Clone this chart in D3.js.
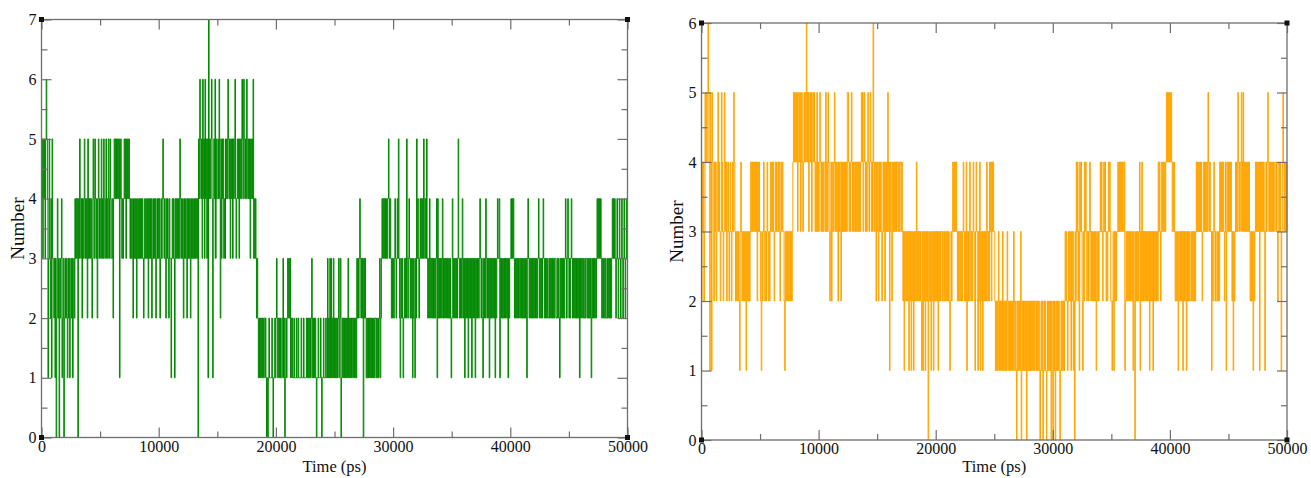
<!DOCTYPE html>
<html>
<head>
<meta charset="utf-8">
<script src="https://cdn.jsdelivr.net/npm/d3@7"></script>
<style>
  html, body { margin: 0; padding: 0; background: #fff; }
  svg { display: block; }
  text { font-family: "Liberation Serif", "Times New Roman", serif; }
</style>
</head>
<body>
<svg id="chart" width="1311" height="478"></svg>
<script>
// Time axis (ps) and count axis ticks
const timeTicks = [0, 10000, 20000, 30000, 40000, 50000];
const timeMinorTicks = [5000, 15000, 25000, 35000, 45000];
const countTicksA = [0, 1, 2, 3, 4, 5, 6, 7];
const countTicksB = [0, 1, 2, 3, 4, 5, 6];
const sampleStepPs = 50;

// Hydrogen-bond counts, one digit per 50 ps, one string per 500 ps
const hbondsA = [
  "4535453565", "4135324153", "3231302432", "0323412302", "3232132312",
  "3231232434", "3404354342", "4345343425", "3434342354", "3543424534",
  "4353435434", "5343543543", "3424545454", "5451454343", "4545354545",
  "4343432434", "3423434343", "4343234343", "3424343423", "4343423434",
  "3423434543", "4324343243", "3134343143", "4343435434", "3423434324",
  "3434234343", "4343434054", "6545364536", "4535174545", "6413546354",
  "4546425354", "5343545465", "4535453545", "6434545354", "5465465454",
  "6545453545", "4634343232", "1212121212", "2121010121", "1112101121",
  "2321212121", "1231201212", "3232312121", "1211121121", "1112111211",
  "1121212121", "2312121210", "1121112101", "1211121131", "2131312131",
  "2121212312", "3012121212", "1213121212", "2121212132", "3234323230",
  "3232121212", "1212121212", "2121212312", "3434343434", "3454343232",
  "3234323435", "3213232123", "2325323432", "3231232132", "5343234343",
  "4354343532", "3243232323", "2323414232", "3232432323", "2323232321",
  "2432323232", "3532323243", "2313232313", "2323132323", "1323232343",
  "2321323243", "2323132323", "2323132343", "3413232323", "2323231323",
  "3434343232", "3232332323", "2323232313", "4323232323", "2323232343",
  "2323234323", "2323223232", "3232323322", "3232132323", "2323432343",
  "2323432323", "2323232313", "2323322323", "3232323213", "2323232343",
  "4343432323", "3232232323", "2323434343", "2343234323", "4323432343",
  "3"
];
const hbondsB = [
  "2434235454", "4654154154", "3243423453", "4323543235", "4342343234",
  "3234354323", "2323213432", "3232321323", "2323434343", "4343424343",
  "3213234323", "2343232343", "4343234343", "3434234343", "3213232323",
  "2323234545", "4545345453", "4543454546", "5453454534", "5454343534",
  "3454343434", "4353435432", "3423434534", "3432434324", "3434343435",
  "5434345434", "3443434343", "4345453454", "3434543454", "3436434324",
  "3423434323", "4342434353", "4134324343", "4343443434", "4343231323",
  "2323132313", "2313232432", "3232321313", "2313232032", "3213231323",
  "2323132323", "3232233232", "3232123234", "3434343232", "3232323432",
  "3241323243", "2323432134", "3213241323", "1323232432", "3243424343",
  "3212121321", "2121312121", "2132121212", "1213212102", "1212130121",
  "2121201212", "1212121212", "2121212101", "2120121210", "1212121021",
  "0212012121", "2101212121", "2323212323", "2132312032", "4342314343",
  "2132434323", "3234323232", "3232132323", "3434323434", "3232343432",
  "2123132323", "3434343434", "4341232323", "2323232132", "0323232341",
  "3242323232", "3232313232", "3132323232", "4343234343", "3434545454",
  "5454343432", "3232132323", "2313232313", "2323223232", "3232343434",
  "3434323434", "3434354343", "3132343232", "2323243434", "3432341343",
  "4343432313", "2343435434", "4354353434", "3434343232", "3213234343",
  "4341434343", "4313434543", "4343434334", "4343234343", "1345434343",
  "4"
];

const seriesColors = ["#008800", "#ffa500"];
const frameColor = "#6e6e6e";

const toSeries = groups => groups.join("").split("").map((c, i) => ({ t: i * sampleStepPs, n: +c }));

const panels = [
  { data: toSeries(hbondsA), color: seriesColors[0], yTicks: countTicksA, yMax: 7,
    x0: 41.5, x1: 627.5, top: 19.5, bottom: 437.5, ylabX: 17 },
  { data: toSeries(hbondsB), color: seriesColors[1], yTicks: countTicksB, yMax: 6,
    x0: 701.5, x1: 1287, top: 23, bottom: 440, ylabX: 676 }
];

const svg = d3.select("#chart");

panels.forEach(p => {
  const x = d3.scaleLinear().domain([0, 50000]).range([p.x0, p.x1]);
  const y = d3.scaleLinear().domain([0, p.yMax]).range([p.bottom, p.top]);
  const yMinor = d3.range(0.5, p.yMax, 1);
  const g = svg.append("g");

  // trace, drawn as a step line so each change is a vertical stroke
  const line = d3.line().curve(d3.curveStepAfter).x(d => x(d.t)).y(d => y(d.n));
  g.append("path")
    .datum(p.data)
    .attr("d", line)
    .attr("fill", "none")
    .attr("stroke", p.color)
    .attr("stroke-width", 1)
    .attr("stroke-linejoin", "miter");

  // inward ticks on all four sides
  const styleAxis = sel => {
    sel.select(".domain").remove();
    sel.selectAll(".tick line").attr("stroke", frameColor).attr("stroke-width", 1.2);
    sel.selectAll(".tick text").attr("fill", "#111").style("font-size", "16px")
      .style("font-family", "'Liberation Serif', 'Times New Roman', serif");
  };
  const addAxis = (axis, tx, ty) => g.append("g").attr("transform", `translate(${tx},${ty})`).call(axis).call(styleAxis);

  addAxis(d3.axisBottom(x).tickValues(timeTicks).tickSize(-10).tickPadding(3).tickFormat(d3.format("d")), 0, p.bottom);
  addAxis(d3.axisBottom(x).tickValues(timeMinorTicks).tickSize(-6).tickFormat(""), 0, p.bottom);
  addAxis(d3.axisTop(x).tickValues(timeTicks).tickSize(-10).tickFormat(""), 0, p.top);
  addAxis(d3.axisTop(x).tickValues(timeMinorTicks).tickSize(-6).tickFormat(""), 0, p.top);
  addAxis(d3.axisLeft(y).tickValues(p.yTicks).tickSize(-10).tickPadding(5).tickFormat(d3.format("d")), p.x0, 0);
  addAxis(d3.axisLeft(y).tickValues(yMinor).tickSize(-6).tickFormat(""), p.x0, 0);
  addAxis(d3.axisRight(y).tickValues(p.yTicks).tickSize(-10).tickFormat(""), p.x1, 0);
  addAxis(d3.axisRight(y).tickValues(yMinor).tickSize(-6).tickFormat(""), p.x1, 0);

  // frame
  g.append("rect")
    .attr("x", p.x0).attr("y", p.top)
    .attr("width", p.x1 - p.x0).attr("height", p.bottom - p.top)
    .attr("fill", "none").attr("stroke", frameColor).attr("stroke-width", 1.3);

  // corner markers
  [[p.x0, p.top], [p.x1, p.top], [p.x0, p.bottom], [p.x1, p.bottom]].forEach(([cx, cy]) => {
    g.append("rect").attr("x", cx - 2.5).attr("y", cy - 2.5).attr("width", 5).attr("height", 5).attr("fill", "#111");
  });

  // axis titles
  g.append("text")
    .attr("x", (p.x0 + p.x1) / 2).attr("y", 472)
    .attr("text-anchor", "middle").style("font-size", "16.5px").attr("fill", "#111")
    .text("Time (ps)");
  g.append("text")
    .attr("transform", `translate(${p.ylabX},${(p.top + p.bottom) / 2}) rotate(-90)`)
    .attr("text-anchor", "middle").attr("dy", "0.35em").style("font-size", "19px").attr("fill", "#111")
    .text("Number");
});
</script>
</body>
</html>
